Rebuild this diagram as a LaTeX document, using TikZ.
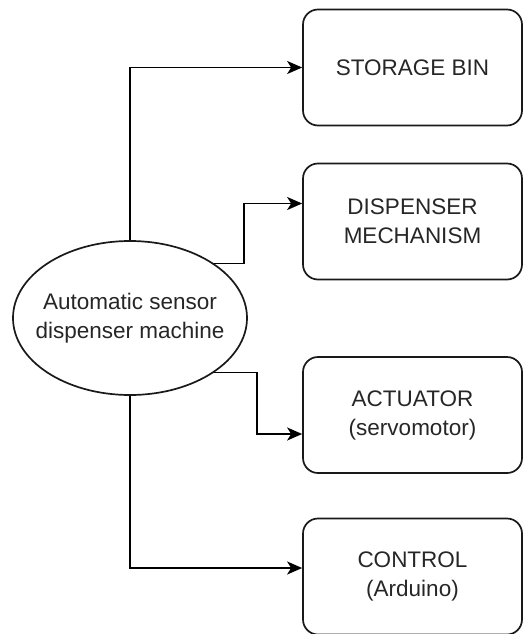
\documentclass[tikz,border=0pt]{standalone}
\usepackage{fontspec}
\setmainfont{Liberation Sans}
\usetikzlibrary{arrows.meta,shapes.geometric}
\begin{document}
\begin{tikzpicture}[x=1pt,y=-1pt,
  label text/.style={font=\fontsize{22.5}{29}\selectfont, text=black!85, align=center},
  block/.style={label text, draw=black!90, line width=1.7pt, rounded corners=15pt,
    minimum width=219pt, minimum height=116pt, inner sep=0pt},
  hub/.style={ellipse, draw=black!90, line width=1.7pt,
    minimum width=234pt, minimum height=154pt, inner sep=0pt},
  link/.style={draw=black, line width=1.8pt, -{Stealth[length=15pt,width=13pt,inset=4pt]}}]

  % canvas
  \useasboundingbox (0,0) rectangle (523,634);

  % central unit: outline and its caption
  \node[hub] (m) at (130,318) {};
  \node[label text] (mtext) at (m.center) {Automatic sensor\\dispenser machine};

  % subsystems
  \node[block] (b1) at (412.5,67.5)  {STORAGE BIN};
  \node[block] (b2) at (412.5,221.5) {DISPENSER\\MECHANISM};
  \node[block] (b3) at (412.5,415)   {ACTUATOR\\(servomotor)};
  \node[block] (b4) at (412.5,576.5) {CONTROL\\(Arduino)};

  % connectors
  \coordinate (t2) at ([yshift=18pt]b2.west);
  \coordinate (t3) at ([yshift=-19pt]b3.west);
  \coordinate (t4) at ([yshift=8.5pt]b4.west);

  \draw[link] (m.north) |- (b1.west);
  \draw[link] (m.33.5) -- (m.33.5 -| 244,0) |- (t2);
  \draw[link] (m.-33) -- (m.-33 -| 257,0) |- (t3);
  \draw[link] (m.south) |- (t4);
\end{tikzpicture}
\end{document}
